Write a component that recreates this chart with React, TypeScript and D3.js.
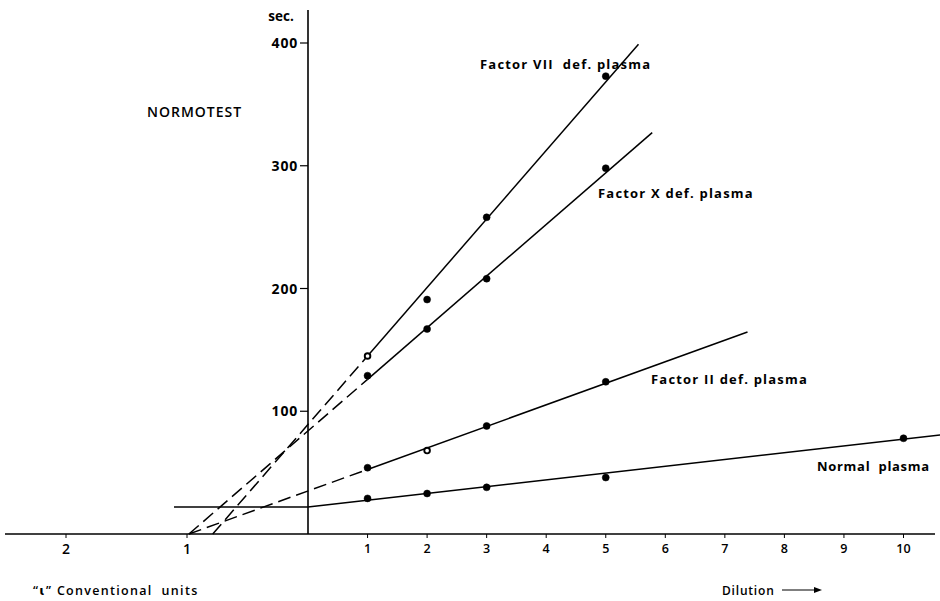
import React from "react";
import * as d3 from "d3";

// dilution values at which clotting times were measured
const dilutions = [1, 2, 3, 5];
const normalDilutions = [1, 2, 3, 5, 10];

// clotting time (sec.)
const normalPlasma = [29, 33, 38, 46, 78];
const factorII = [54, 68, 88, 124];
const factorX = [129, 167, 208, 298];
const factorVII = [145, 191, 258, 373];

// points drawn as open circles: [series, dilution]
const openPoints = [["VII", 1], ["II", 2]];

// fitted lines: [x0, y0, xBreak, yBreak, x1, y1] (dashed part x0..xBreak, solid after)
const fitNormal = [0, 22, 0, 22, 10.62, 80.7];
const fitII = [-2, 0, 1, 52.6, 7.38, 164.5];
const fitX = [-2, 0, 1, 126, 5.78, 327];
const fitVII = [-1.6, 0, 1, 145, 5.55, 399];
const normalBaseline = [-2.25, 0, 22];

const dilutionTicks = [1, 2, 3, 4, 5, 6, 7, 8, 9, 10];
const convTicks = [1, 2];
const secTicks = [100, 200, 300, 400];

const W = 940;
const H = 601;

const x = d3.scaleLinear().domain([0, 10]).range([308, 903.5]);
const xConv = d3.scaleLinear().domain([0, 2]).range([308, 66]);
const y = d3.scaleLinear().domain([0, 400]).range([534, 43]);

const line = d3
  .line<number[]>()
  .x((d) => x(d[0]))
  .y((d) => y(d[1]));

const font = "'Open Sans', 'DejaVu Sans', sans-serif";

function Fit({ f }: { f: number[] }) {
  const dashed = f[0] !== f[2];
  return (
    <g fill="none" stroke="#000" strokeWidth={1.5}>
      {dashed && (
        <path
          d={line([[f[0], f[1]], [f[2], f[3]]]) || ""}
          strokeDasharray="13,6"
        />
      )}
      <path d={line([[f[2], f[3]], [f[4], f[5]]]) || ""} />
    </g>
  );
}

function Points({ name, xs, ys }: { name: string; xs: number[]; ys: number[] }) {
  return (
    <g>
      {xs.map((d, i) => {
        const open = openPoints.some((p) => p[0] === name && p[1] === d);
        return (
          <circle
            key={i}
            cx={x(d)}
            cy={y(ys[i])}
            r={open ? 2.8 : 3.5}
            fill={open ? "#fff" : "#000"}
            stroke="#000"
            strokeWidth={open ? 1.9 : 0.5}
          />
        );
      })}
    </g>
  );
}

export default function App() {
  return (
    <svg
      width={W}
      height={H}
      style={{ position: "absolute", left: 0, top: 0, background: "#fff" }}
      fontFamily={font}
    >
      <rect width={W} height={H} fill="#fff" />

      {/* axes */}
      <line x1={5} x2={935} y1={y(0)} y2={y(0)} stroke="#000" strokeWidth={1.6} />
      <line x1={x(0)} x2={x(0)} y1={10} y2={y(0)} stroke="#000" strokeWidth={1.6} />

      {dilutionTicks.map((t) => (
        <g key={t} transform={`translate(${x(t)},${y(0)})`}>
          <line y1={0} y2={4} stroke="#000" strokeWidth={1} />
          <text y={19} textAnchor="middle" fontSize={12.5} fontWeight={600}>
            {t}
          </text>
        </g>
      ))}
      {convTicks.map((t) => (
        <g key={"c" + t} transform={`translate(${xConv(t)},${y(0)})`}>
          <line y1={0} y2={4} stroke="#000" strokeWidth={1} />
          <text y={20} textAnchor="middle" fontSize={14} fontWeight={600}>
            {t}
          </text>
        </g>
      ))}
      {secTicks.map((t) => (
        <g key={"s" + t} transform={`translate(${x(0)},${y(t)})`}>
          <line x1={-8} x2={0} stroke="#000" strokeWidth={1.2} />
          <text x={-10} dy="0.36em" textAnchor="end" fontSize={14} fontWeight={700} letterSpacing={0.8}>
            {t}
          </text>
        </g>
      ))}
      <text x={281} y={21} textAnchor="middle" fontSize={13.5} fontWeight={700}>
        sec.
      </text>

      {/* fitted lines */}
      <line
        x1={x(normalBaseline[0])}
        x2={x(normalBaseline[1])}
        y1={y(normalBaseline[2])}
        y2={y(normalBaseline[2])}
        stroke="#000"
        strokeWidth={1.5}
      />
      <Fit f={fitNormal} />
      <Fit f={fitII} />
      <Fit f={fitX} />
      <Fit f={fitVII} />

      {/* measured points */}
      <Points name="N" xs={normalDilutions} ys={normalPlasma} />
      <Points name="II" xs={dilutions} ys={factorII} />
      <Points name="X" xs={dilutions} ys={factorX} />
      <Points name="VII" xs={dilutions} ys={factorVII} />

      {/* labels */}
      <text x={147} y={117} fontSize={14} fontWeight={600} letterSpacing={1}>
        NORMOTEST
      </text>
      <g fontSize={13} fontWeight={700} letterSpacing={1.2}>
        <text x={480} y={69} xmlSpace="preserve">Factor VII  def. plasma</text>
        <text x={598} y={198}>Factor X def. plasma</text>
        <text x={651} y={384}>Factor II def. plasma</text>
        <text x={817} y={471} xmlSpace="preserve" letterSpacing={0.7}>Normal  plasma</text>
      </g>
      <text x={33} y={595} fontSize={12.5} fontWeight={600} xmlSpace="preserve" letterSpacing={1.3}>
        {"\u201Cɩ\u201D Conventional  units"}
      </text>
      <text x={722} y={595} fontSize={12} fontWeight={600} letterSpacing={0.8}>
        Dilution
      </text>
      <line x1={782} x2={816} y1={590} y2={590} stroke="#000" strokeWidth={1.2} />
      <path d="M814,587 L822,590 L814,593 Z" fill="#000" />
    </svg>
  );
}
